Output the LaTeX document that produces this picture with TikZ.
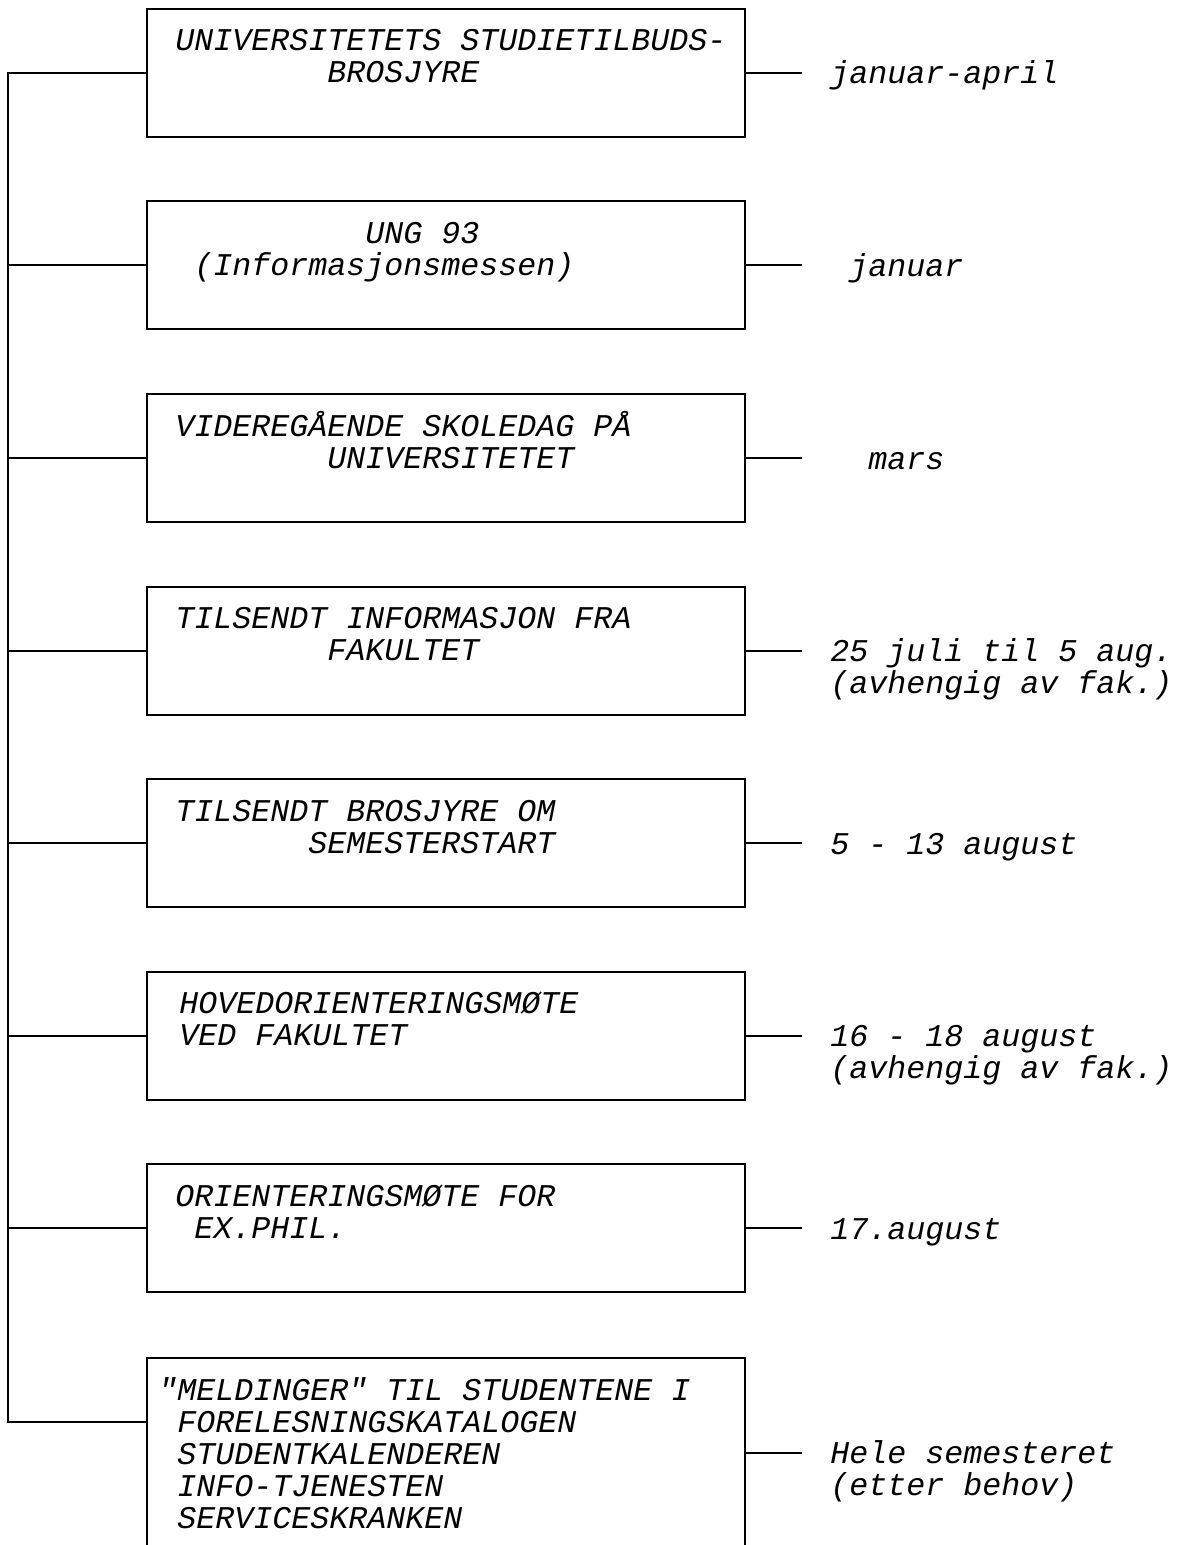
\documentclass[tikz,border=0pt]{standalone}
\usepackage{fontspec}
\newfontfamily\maskin{Liberation Mono}
\usetikzlibrary{positioning}

\newcommand\innrykk[1]{\hspace*{#1\dimexpr0.6em\relax}}

\tikzset{
  boks/.style={draw, line width=1pt, minimum width=299pt, minimum height=64pt, inner sep=0pt, outer sep=0pt},
  tekst/.style={anchor=base west, align=left, inner sep=0pt, font=\maskin\itshape\fontsize{15.83}{16}\selectfont},
  strek/.style={line width=1pt},
}

\begin{document}
\begin{tikzpicture}[x=0.5pt, y=-0.5pt, node distance=32.25pt]
\useasboundingbox (0,0) rectangle (1180,1545);

% boksene
\node[boks] (b1) at (446,73) {};
\node[boks, below=of b1] (b2) {};
\node[boks, below=of b2] (b3) {};
\node[boks, below=of b3] (b4) {};
\node[boks, below=of b4] (b5) {};
\node[boks, below=of b5] (b6) {};
\node[boks, below=of b6] (b7) {};
\node[boks, below=33pt of b7, minimum height=95pt] (b8) {};

% tekst i boksene (base = siste linje)
\node[tekst] (t1) at ([xshift=14pt, yshift=-37pt]b1.north west) {UNIVERSITETETS STUDIETILBUDS-\\\innrykk{8}BROSJYRE};
\node[tekst] (t2) at ([xshift=14pt, yshift=-37pt]b2.north west) {\innrykk{10}UNG 93\\\innrykk{1}(Informasjonsmessen)};
\node[tekst] (t3) at ([xshift=14pt, yshift=-37pt]b3.north west) {VIDEREGÅENDE SKOLEDAG PÅ\\\innrykk{8}UNIVERSITETET};
\node[tekst] (t4) at ([xshift=14pt, yshift=-37pt]b4.north west) {TILSENDT INFORMASJON FRA\\\innrykk{8}FAKULTET};
\node[tekst] (t5) at ([xshift=14pt, yshift=-37pt]b5.north west) {TILSENDT BROSJYRE OM\\\innrykk{7}SEMESTERSTART};
\node[tekst] (t6) at ([xshift=16pt, yshift=-37pt]b6.north west) {HOVEDORIENTERINGSMØTE\\VED FAKULTET};
\node[tekst] (t7) at ([xshift=14pt, yshift=-37pt]b7.north west) {ORIENTERINGSMØTE FOR\\\innrykk{1}EX.PHIL.};
\node[tekst] (t8) at ([xshift=5.5pt, yshift=-85pt]b8.north west) {"MELDINGER" TIL STUDENTENE I\\\innrykk{1}FORELESNINGSKATALOGEN\\\innrykk{1}STUDENTKALENDEREN\\\innrykk{1}INFO-TJENESTEN\\\innrykk{1}SERVICESKRANKEN};

% tidspunkt
\node[tekst] (d1) at ([xshift=42.5pt, yshift=-5.5pt]b1.east) {januar-april};
\node[tekst] (d2) at ([xshift=42.5pt, yshift=-5.5pt]b2.east) {\innrykk{1}januar};
\node[tekst] (d3) at ([xshift=42.5pt, yshift=-5.5pt]b3.east) {\innrykk{2}mars};
\node[tekst] (d4) at ([xshift=42.5pt, yshift=-21.5pt]b4.east) {25 juli til 5 aug.\\(avhengig av fak.)};
\node[tekst] (d5) at ([xshift=42.5pt, yshift=-5.5pt]b5.east) {5 - 13 august};
\node[tekst] (d6) at ([xshift=42.5pt, yshift=-21.5pt]b6.east) {16 - 18 august\\(avhengig av fak.)};
\node[tekst] (d7) at ([xshift=42.5pt, yshift=-5.5pt]b7.east) {17.august};
\node[tekst] (d8) at ([xshift=42.5pt, yshift=-21pt]b8.east) {Hele semesteret\\(etter behov)};

% linjene
\coordinate (topp) at (8,73);
\coordinate (bunn) at (8,1422);
\draw[strek] (b1.west) -- (topp) -- (bunn) -- (bunn -| b8.west);
\draw[strek] (b2.west -| topp) -- (b2.west);
\draw[strek] (b3.west -| topp) -- (b3.west);
\draw[strek] (b4.west -| topp) -- (b4.west);
\draw[strek] (b5.west -| topp) -- (b5.west);
\draw[strek] (b6.west -| topp) -- (b6.west);
\draw[strek] (b7.west -| topp) -- (b7.west);

\draw[strek, shorten >=14pt] (b1.east) -- (b1.east -| d1.west);
\draw[strek, shorten >=14pt] (b2.east) -- (b2.east -| d2.west);
\draw[strek, shorten >=14pt] (b3.east) -- (b3.east -| d3.west);
\draw[strek, shorten >=14pt] (b4.east) -- (b4.east -| d4.west);
\draw[strek, shorten >=14pt] (b5.east) -- (b5.east -| d5.west);
\draw[strek, shorten >=14pt] (b6.east) -- (b6.east -| d6.west);
\draw[strek, shorten >=14pt] (b7.east) -- (b7.east -| d7.west);
\draw[strek, shorten >=14pt] (b8.east) -- (b8.east -| d8.west);
\end{tikzpicture}
\end{document}
